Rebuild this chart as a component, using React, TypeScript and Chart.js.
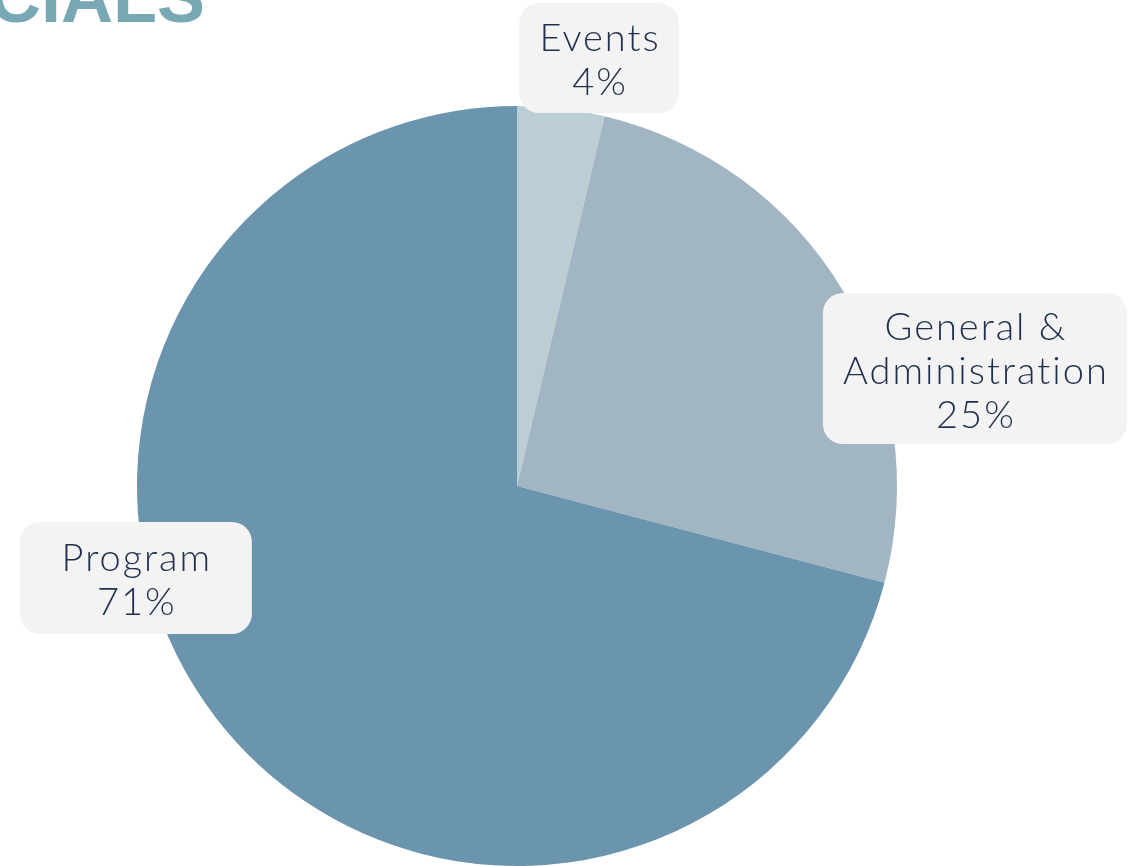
import React, { useEffect, useRef } from "react";
import { Chart, registerables } from "chart.js";

Chart.register(...registerables);

const categories = ["Events", "General & Administration", "Program"];
const labelLines = [["Events"], ["General &", "Administration"], ["Program"]];
const values = [3.7, 25.4, 70.9];
const percentLabels = ["4%", "25%", "71%"];
const colors = ["#BBCED4", "#A1B5C3", "#6B95AE"];
// label box centre offsets, in units of the pie radius, and box sizes
const labelOffsets = [
  [0.216, -1.126],
  [1.205, -0.309],
  [-1.003, 0.242],
];
const labelBoxSizes = [
  [160, 110],
  [304, 151],
  [232, 112],
];

const labelPlugin = {
  id: "boxLabels",
  afterDraw(chart: any) {
    const ctx = chart.ctx;
    const meta = chart.getDatasetMeta(0);
    const arc = meta.data[0];
    const cx = arc.x;
    const cy = arc.y;
    const r = arc.outerRadius;
    ctx.save();
    // title fragment, clipped at top of page
    ctx.fillStyle = "#79A8B5";
    ctx.font = "bold 72px 'Liberation Sans', Arial, sans-serif";
    ctx.textAlign = "right";
    ctx.textBaseline = "alphabetic";
    ctx.fillText("CIALS", 205, 22);

    categories.forEach((_, i) => {
      const bx = cx + labelOffsets[i][0] * r;
      const by = cy + labelOffsets[i][1] * r;
      const [w, h] = labelBoxSizes[i];
      ctx.fillStyle = "#F3F3F3";
      ctx.beginPath();
      (ctx as any).roundRect(bx - w / 2, by - h / 2, w, h, 20);
      ctx.fill();
      const lines = [...labelLines[i], percentLabels[i]];
      const lh = 44;
      ctx.fillStyle = "#1F2F4C";
      ctx.font = "300 38px Lato, 'Noto Sans', sans-serif";
      (ctx as any).letterSpacing = "2px";
      ctx.textAlign = "center";
      ctx.textBaseline = "middle";
      const startY = by - ((lines.length - 1) * lh) / 2 + 3;
      lines.forEach((t, j) => {
        ctx.fillText(t, bx + 1, startY + j * lh);
      });
      (ctx as any).letterSpacing = "0px";
    });
    ctx.restore();
  },
};

export default function App() {
  const ref = useRef<HTMLCanvasElement>(null);
  useEffect(() => {
    if (!ref.current) return;
    const chart = new Chart(ref.current, {
      type: "pie",
      data: {
        labels: categories,
        datasets: [
          {
            data: values,
            backgroundColor: colors,
            borderWidth: 0,
          },
        ],
      },
      options: {
        animation: false,
        responsive: true,
        maintainAspectRatio: false,
        layout: { padding: { top: 106, bottom: 0, left: 137, right: 238 } },
        plugins: {
          legend: { display: false },
          tooltip: { enabled: false },
        },
      },
      plugins: [labelPlugin],
    });
    return () => chart.destroy();
  }, []);
  return (
    <div
      style={{
        position: "fixed",
        left: 0,
        top: 0,
        width: 1135,
        height: 866,
        background: "#FFFFFF",
      }}
    >
      <canvas ref={ref} />
    </div>
  );
}
